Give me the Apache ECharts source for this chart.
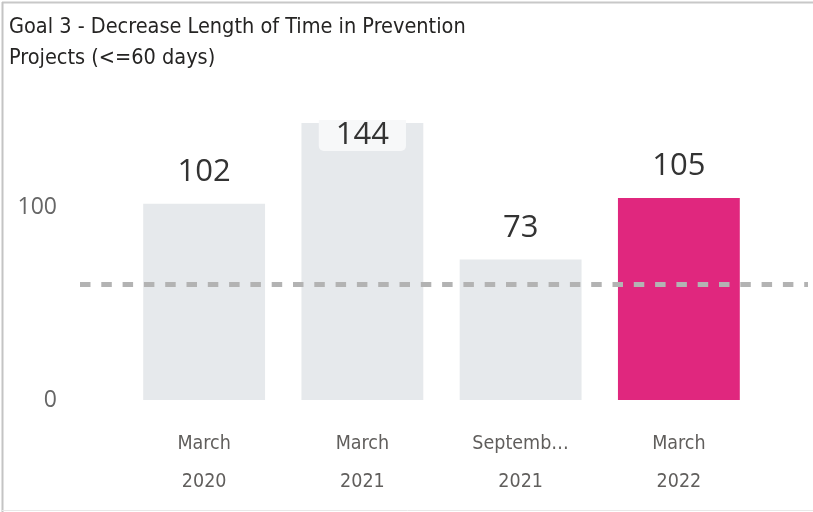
<!DOCTYPE html>
<html>
<head>
<meta charset="utf-8">
<script src="https://cdn.jsdelivr.net/npm/echarts@6/dist/echarts.min.js"></script>
<style>
  html, body { margin: 0; padding: 0; background: #ffffff; }
  #chart { width: 813px; height: 512px; }
</style>
</head>
<body>
<div id="chart"></div>
<script>
// ---- data ----
const titleLines = ['Goal 3 - Decrease Length of Time in Prevention', 'Projects (<=60 days)'];
const categories = ['March\n2020', 'March\n2021', 'Septemb…\n2021', 'March\n2022'];
const values = [102, 144, 73, 105];
const targetValue = 60;
const yTickValues = [0, 100];
const highlightCategory = 'March\n2022';
const yMax = 144;

// ---- chart ----
const chart = echarts.init(document.getElementById('chart'), null, { renderer: 'canvas' });
const narrowFont = "'DejaVu Sans Condensed', 'Liberation Sans Narrow', 'Open Sans', sans-serif";

const barData = values.map((v, i) => {
  const item = { value: v };
  if (categories[i] === highlightCategory) {
    item.itemStyle = { color: '#e0277e' };
  }
  if (v >= yMax) {
    item.label = {
      position: 'insideTop',
      distance: 0,
      offset: [0, -3],
      backgroundColor: '#f7f8f9',
      borderRadius: [0, 0, 5, 5],
      padding: [0, 17, 0, 17]
    };
  }
  return item;
});

const option = {
  backgroundColor: '#ffffff',
  animation: false,
  title: {
    text: titleLines.join('\n'),
    left: 9,
    top: 12,
    padding: 0,
    textStyle: {
      fontFamily: narrowFont,
      fontSize: 21.5,
      lineHeight: 31,
      fontWeight: 'normal',
      color: '#252423'
    }
  },
  graphic: [
    { type: 'line', shape: { x1: 2, y1: 2.5, x2: 813, y2: 2.5 }, style: { stroke: '#c8c8c8', lineWidth: 2 } },
    { type: 'line', shape: { x1: 2.5, y1: 2, x2: 2.5, y2: 512 }, style: { stroke: '#c4c4c4', lineWidth: 2 } },
    { type: 'line', shape: { x1: 2, y1: 510.5, x2: 813, y2: 510.5 }, style: { stroke: '#e8e8e8', lineWidth: 1 } }
  ],
  grid: [
    { left: 125, right: 55, top: 123, bottom: 112 },
    { left: 80, right: 5, top: 123, bottom: 112 }
  ],
  xAxis: [
    {
      type: 'category',
      gridIndex: 0,
      data: categories,
      axisLine: { show: false },
      axisTick: { show: false },
      axisLabel: {
        interval: 0,
        margin: 25,
        fontFamily: narrowFont,
        fontSize: 19.5,
        lineHeight: 38,
        color: '#605e5c'
      }
    },
    {
      type: 'value',
      gridIndex: 1,
      min: 0,
      max: 1,
      show: false
    }
  ],
  yAxis: [
    {
      type: 'value',
      gridIndex: 0,
      min: 0,
      max: yMax,
      show: false
    },
    {
      type: 'value',
      gridIndex: 1,
      min: 0,
      max: yMax,
      interval: 100,
      axisLine: { show: false },
      axisTick: { show: false },
      splitLine: { show: false },
      axisLabel: {
        showMaxLabel: false,
        margin: 23,
        fontFamily: "'Open Sans', sans-serif",
        fontSize: 23,
        color: '#666666',
        formatter: (v) => (yTickValues.indexOf(v) >= 0 ? String(v) : '')
      }
    }
  ],
  series: [
    {
      type: 'bar',
      xAxisIndex: 0,
      yAxisIndex: 0,
      data: barData,
      barCategoryGap: '23%',
      itemStyle: { color: '#e6e9ec' },
      label: {
        show: true,
        position: 'top',
        distance: 16,
        fontFamily: "'Open Sans', sans-serif",
        fontSize: 31,
        lineHeight: 31,
        color: '#333333'
      },
      z: 2
    },
    {
      type: 'line',
      xAxisIndex: 1,
      yAxisIndex: 1,
      data: [],
      z: 5,
      markLine: {
        silent: true,
        symbol: 'none',
        label: { show: false },
        lineStyle: { type: [10.5, 10.8], width: 5, color: '#b3b3b3' },
        data: [{ yAxis: targetValue }]
      }
    }
  ]
};

chart.setOption(option);
</script>
</body>
</html>
